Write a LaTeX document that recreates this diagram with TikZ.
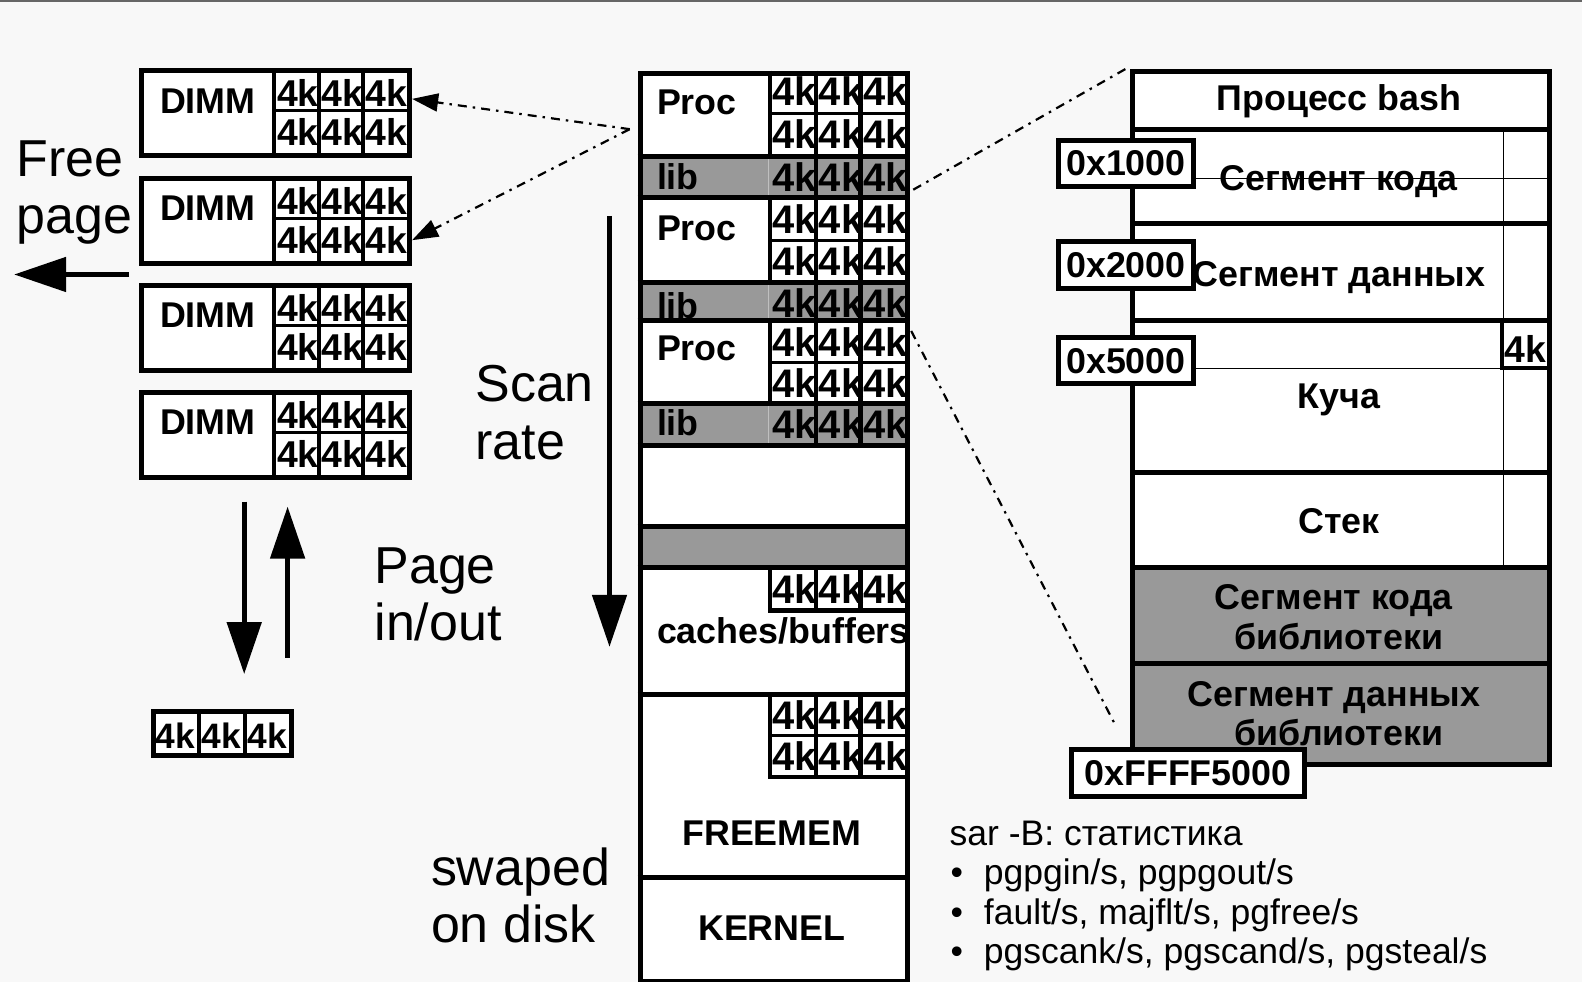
\documentclass[tikz,border=0pt]{standalone}
\usepackage{fontspec}
\setmainfont{Liberation Sans}
\usetikzlibrary{arrows.meta}
\definecolor{bgc}{HTML}{F8F8F8}
\definecolor{segray}{HTML}{999999}
\tikzset{
  boxline/.style={line width=5pt},
  cellline/.style={line width=4.5pt},
  rowline/.style={line width=3pt},
  thinline/.style={line width=1.3pt},
  boldtxt/.style={font=\fontsize{35.5}{40}\selectfont\bfseries, inner sep=0pt},
  kcell/.style={font=\fontsize{39.5}{42}\selectfont\bfseries, inner sep=0pt, anchor=base west},
  kcelld/.style={font=\fontsize{37}{40}\selectfont\bfseries, inner sep=0pt, anchor=base west},
  kcellsmall/.style={font=\fontsize{35}{38}\selectfont\bfseries, inner sep=0pt, anchor=base west},
  bigtxt/.style={font=\fontsize{51.5}{56}\selectfont, inner sep=0pt, anchor=base west},
  listtxt/.style={font=\fontsize{35.2}{39}\selectfont, inner sep=0pt, anchor=base west},
  dimmbox/.style={fill=white, anchor=north west, minimum width=265pt, minimum height=84pt, inner sep=0pt},
  addrbox/.style={draw, boxline, fill=white, font=\fontsize{35.5}{40}\selectfont\bfseries, inner sep=0pt, anchor=north west},
  dashdotline/.style={line width=2.2pt, dash pattern=on 9pt off 6pt on 2.5pt off 6pt},
  bigarrow/.style={line width=5pt, -{Triangle[length=52pt,width=34pt]}},
  dotarrow/.style={dashdotline, -{Triangle[length=26pt,width=18pt]}},
}
\begin{document}
\begin{tikzpicture}[x=1pt,y=-1pt]
\begin{scope}[scale=1.00893, transform shape]
\useasboundingbox (0,0) rectangle (1568,973.3);
\fill[bgc] (0,0) rectangle (1568,973.3);
\draw[line width=2pt, black!60] (0,1) -- (1568,1);

% ---------------- DIMMs ----------------
\foreach \i/\t in {1/70,2/177,3/283,4/389} {
  \node[dimmbox] (dimm\i) at (140,\t) {};
  \node[boldtxt, anchor=base] (dimmlab\i) at (206,\t+42) {DIMM};
  \foreach \c/\cx in {a/274.5,b/318.5,c/362.5} {
    \node[kcelld] (dk\i\c1) at (\cx,\t+36) {4k};
    \node[kcelld] (dk\i\c2) at (\cx,\t+74) {4k};
  }
  \draw[line width=4pt] (272,\t) -- (272,\t+84);
  \draw[cellline] (316,\t) -- (316,\t+84);
  \draw[cellline] (360,\t) -- (360,\t+84);
  \draw[rowline] (272,\t+40) -- (405,\t+40);
  \draw[boxline] (dimm\i.north west) rectangle (dimm\i.south east);
}

% Free page
\node[bigtxt] (free1) at (16,175) {Free};
\node[bigtxt] (free2) at (16,231) {page};
\coordinate (fpstart) at (128,272);
\coordinate (fpend) at (14,272);
\draw[bigarrow] (fpstart) -- (fpend);

% Page in/out
\coordinate (pdtop) at (242,497);
\coordinate (pdbot) at (242,668);
\coordinate (putop) at (285,502);
\coordinate (pubot) at (285,652);
\draw[bigarrow] (pdtop) -- (pdbot);
\draw[bigarrow] (pubot) -- (putop);
\node[bigtxt] (page1) at (371,578) {Page};
\node[bigtxt] (page2) at (371,635) {in/out};

% swapped pages
\node[fill=white, anchor=north west, minimum width=136pt, minimum height=43pt, inner sep=0pt] (swapbox) at (152,705) {};
\foreach \c/\cx in {a/154,b/199.5,c/245.5} {
  \node[kcellsmall] (sk\c) at (\cx,742) {4k};
}
\draw[line width=3.5pt] (197,705) -- (197,748);
\draw[line width=3.5pt] (243,705) -- (243,748);
\draw[boxline] (swapbox.north west) rectangle (swapbox.south east);

% Scan rate
\node[bigtxt] (scan1) at (471,398) {Scan};
\node[bigtxt] (scan2) at (471,455) {rate};
\coordinate (srtop) at (604,214);
\coordinate (srbot) at (604,641);
\draw[bigarrow] (srtop) -- (srbot);

% swaped on disk
\node[bigtxt] (swp1) at (427,878) {swaped};
\node[bigtxt] (swp2) at (427,934) {on disk};

% ---------------- memory column ----------------
\fill[white] (632,70) rectangle (897,970);
\foreach \a/\b in {155/196,280/318,400/442,522/562} {
  \fill[segray] (632,\a) rectangle (897,\b);
}
% proc blocks cells
\foreach \n/\top/\bot in {1/70/155,2/196/280,3/318/400} {
  \pgfmathsetmacro\mid{(\top+\bot)/2}
  \foreach \c/\cx in {a/765.5,b/811.5,c/855.5} {
    \node[kcell] (pk\n\c1) at (\cx,{\top+35}) {4k};
    \node[kcell] (pk\n\c2) at (\cx,{\mid+35}) {4k};
  }
  \draw[cellline] (763,\top) -- (763,\bot);
  \draw[cellline] (809,\top) -- (809,\bot);
  \draw[cellline] (853,\top) -- (853,\bot);
  \draw[rowline] (763,\mid) -- (897,\mid);
}
% lib rows cells
\foreach \n/\top/\bot in {1/155/196,2/280/318,3/400/442} {
  \foreach \c/\cx in {a/765.5,b/811.5,c/855.5} {
    \node[kcell] (lk\n\c) at (\cx,{\top+35}) {4k};
  }
  \draw[line width=1pt, black!25] (762,\top) -- (762,\bot);
  \draw[cellline] (809,\top) -- (809,\bot);
  \draw[cellline] (853,\top) -- (853,\bot);
}
\node[boldtxt, anchor=base west] (proc1) at (651,113) {Proc};
\node[boldtxt, anchor=base west] (proc2) at (651,238) {Proc};
\node[boldtxt, anchor=base west] (proc3) at (651,357) {Proc};
\node[boldtxt, anchor=base west] (lib1) at (651,188) {lib};
\node[boldtxt, anchor=base west] (lib2) at (651,316) {lib};
\node[boldtxt, anchor=base west] (lib3) at (651,432) {lib};

% caches/buffers cells
\foreach \c/\cx in {a/765.5,b/811.5,c/855.5} {
  \node[kcell] (ck\c) at (\cx,598) {4k};
}
\draw[cellline] (763,562) -- (763,605) -- (897,605);
\draw[cellline] (809,562) -- (809,605);
\draw[cellline] (853,562) -- (853,605);
\node[boldtxt, anchor=base west] (caches) at (651,638) {caches/buffers};

% freemem cells
\foreach \c/\cx in {a/765.5,b/811.5,c/855.5} {
  \node[kcell] (fk\c1) at (\cx,723) {4k};
  \node[kcell] (fk\c2) at (\cx,764) {4k};
}
\draw[cellline] (763,688) -- (763,770) -- (897,770);
\draw[cellline] (809,688) -- (809,770);
\draw[cellline] (853,688) -- (853,770);
\draw[rowline] (763,729) -- (897,729);
\node[boldtxt, anchor=base] (freemem) at (765,838) {FREEMEM};
\node[boldtxt, anchor=base] (kernel) at (765,932) {KERNEL};

\foreach \y in {155,196,280,318,400,442,522,562,688,870} {
  \draw[boxline] (632,\y) -- (897,\y);
}
\node[draw, boxline, anchor=north west, minimum width=265pt, minimum height=900pt, inner sep=0pt] (memcol) at (632,70) {};

% ---------------- process bash ----------------
\fill[white] (1120,68) rectangle (1533,562);
\fill[segray] (1120,562) rectangle (1533,755);
\draw[thinline] (1490,128) -- (1490,562);
\draw[thinline] (1180,177) -- (1533,177);
\draw[thinline] (1180,365) -- (1490,365);
\foreach \y in {128,222,318,468,562,658} {
  \draw[boxline] (1120,\y) -- (1533,\y);
}
\node[boldtxt, anchor=base] (hdr) at (1327,110) {Процесс bash};
\node[boldtxt, anchor=base] (seg1) at (1327,189) {Сегмент кода};
\node[boldtxt, anchor=base] (seg2) at (1327,284) {Сегмент данных};
\node[boldtxt, anchor=base] (seg3) at (1327,405) {Куча};
\node[boldtxt, anchor=base] (seg4) at (1327,529) {Стек};
\node[boldtxt, anchor=base] (seg5a) at (1322,604) {Сегмент кода};
\node[boldtxt, anchor=base] (seg5b) at (1327,644) {библиотеки};
\node[boldtxt, anchor=base] (seg6a) at (1322,700) {Сегмент данных};
\node[boldtxt, anchor=base] (seg6b) at (1327,739) {библиотеки};
% 4k in heap
\node[kcelld] (hk) at (1491,359) {4k};
\draw[line width=4pt] (1489,320) -- (1489,365) -- (1533,365);
\node[draw, boxline, anchor=north west, minimum width=413pt, minimum height=687pt, inner sep=0pt] (bash) at (1120,68) {};
% addresses
\node[addrbox, minimum width=133pt, minimum height=45pt] (a1) at (1047,137) {0x1000};
\node[addrbox, minimum width=133pt, minimum height=46pt] (a2) at (1047,237) {0x2000};
\node[addrbox, minimum width=133pt, minimum height=46pt] (a3) at (1047,332) {0x5000};
\node[addrbox, minimum width=230pt, minimum height=47pt] (a4) at (1060,740) {0xFFFF5000};

% ---------------- dotted connectors ----------------
\coordinate (pproc) at (624,128);
\draw[dotarrow] (pproc) -- ([xshift=3pt,yshift=-28pt]dimm1.north east);
\draw[dotarrow] (pproc) -- ([xshift=3pt,yshift=-61pt]dimm2.north east);
\coordinate (lib1r) at (905,188);
\coordinate (proc3r) at (903,328);
\coordinate (bashbot) at (1105,718);
\draw[dashdotline] (lib1r) -- ([xshift=-4pt]bash.north west);
\draw[dashdotline] (proc3r) -- (bashbot);

% ---------------- sar list ----------------
\node[listtxt] (sar) at (941,838) {sar -B: статистика};
\node[listtxt] (b1) at (942,877) {•};
\node[listtxt] (l1) at (975,877) {pgpgin/s, pgpgout/s};
\node[listtxt] (b2) at (942,916) {•};
\node[listtxt] (l2) at (975,916) {fault/s, majflt/s, pgfree/s};
\node[listtxt] (b3) at (942,955) {•};
\node[listtxt] (l3) at (975,955) {pgscank/s, pgscand/s, pgsteal/s};
\end{scope}
\end{tikzpicture}
\end{document}
